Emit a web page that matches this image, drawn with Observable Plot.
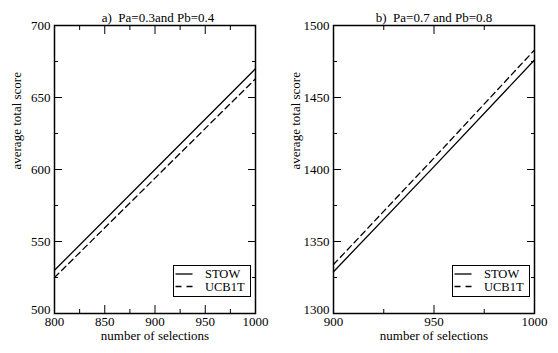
<!DOCTYPE html>
<html><head><meta charset="utf-8">
<script src="https://cdn.jsdelivr.net/npm/d3@7"></script>
<script src="https://cdn.jsdelivr.net/npm/@observablehq/plot@0.6"></script>
<style>
body{margin:0;background:#fff;}
#wrap{position:relative;width:558px;height:353px;display:flex;font-family:"Liberation Serif","Times New Roman",serif;color:#000;}
svg text{white-space:pre;font-family:"Liberation Serif","Times New Roman",serif;}
.legend{position:absolute;top:265px;width:78px;height:32px;border:1px solid #000;box-sizing:border-box;background:#fff;}
</style></head><body><div id="wrap"></div>
<script>
// ---- data ----
const seriesNames = ["STOW", "UCB1T"];
const panelTitles = ["a)  Pa=0.3and Pb=0.4", "b)  Pa=0.7 and Pb=0.8"];
const xLabel = "number of selections";
const yLabel = "average total score";

const xA = [800, 900, 1000];
const stowA = [530, 600, 670];
const ucbA = [525, 594, 663];

const xB = [900, 950, 1000];
const stowB = [1329, 1402, 1476];
const ucbB = [1334, 1408, 1483];

const xDomainA = [800, 1000], yDomainA = [500, 700];
const xDomainB = [900, 1000], yDomainB = [1300, 1500];
const xMajorA = [800, 850, 900, 950, 1000], xMinorA = [825, 875, 925, 975];
const yMajorA = [500, 550, 600, 650, 700], yMinorA = [525, 575, 625, 675];
const xMajorB = [900, 950, 1000], xMinorB = [925, 975];
const yMajorB = [1300, 1350, 1400, 1450, 1500], yMinorB = [1325, 1375, 1425, 1475];

const FONT = '"Liberation Serif", "Times New Roman", serif';

function rows(xs, a, b) {
  const out = [];
  xs.forEach((x, i) => out.push({x, y: a[i], s: seriesNames[0]}));
  xs.forEach((x, i) => out.push({x, y: b[i], s: seriesNames[1]}));
  return out;
}

function panel(cfg) {
  const data = rows(cfg.xs, cfg.a, cfg.b);
  const yLow = cfg.yMajor[0];
  const tickOpts = {label: null, fill: "none", strokeWidth: 1};
  const fmt = d => String(d);
  return Plot.plot({
    width: 279, height: 353,
    marginLeft: 54, marginRight: 24, marginTop: 25, marginBottom: 40,
    style: {fontFamily: FONT, fontSize: "13px", color: "#000", background: "#fff"},
    x: {domain: cfg.xDomain, label: null},
    y: {domain: cfg.yDomain, label: null},
    marks: [
      Plot.line(data.filter(d => d.s === seriesNames[0]), {x: "x", y: "y", stroke: "#000", strokeWidth: 1.3}),
      Plot.line(data.filter(d => d.s === seriesNames[1]), {x: "x", y: "y", stroke: "#000", strokeWidth: 1.3, strokeDasharray: "6,4"}),
      // inward ticks, all four sides
      Plot.axisX(cfg.xMajor, {anchor: "bottom", tickSize: -8, ...tickOpts}),
      Plot.axisX(cfg.xMinor, {anchor: "bottom", tickSize: -4, ...tickOpts}),
      Plot.axisX(cfg.xMajor, {anchor: "top", tickSize: -8, ...tickOpts}),
      Plot.axisX(cfg.xMinor, {anchor: "top", tickSize: -4, ...tickOpts}),
      Plot.axisY(cfg.yMajor, {anchor: "left", tickSize: -8, ...tickOpts}),
      Plot.axisY(cfg.yMinor, {anchor: "left", tickSize: -4, ...tickOpts}),
      Plot.axisY(cfg.yMajor, {anchor: "right", tickSize: -8, ...tickOpts}),
      Plot.axisY(cfg.yMinor, {anchor: "right", tickSize: -4, ...tickOpts}),
      // tick labels
      Plot.axisX(cfg.xMajor, {anchor: "bottom", tickSize: 0, tickPadding: 3, label: null, fill: "#000", tickFormat: fmt, fontSize: 13}),
      Plot.axisY(cfg.yMajor.filter(v => v !== yLow), {anchor: "left", tickSize: 0, tickPadding: 4, label: null, fill: "#000", tickFormat: fmt, fontSize: 13}),
      Plot.axisY([yLow], {anchor: "left", tickSize: 0, tickPadding: 4, label: null, fill: "#000", dy: -4, tickFormat: fmt, fontSize: 13}),
      Plot.frame({stroke: "#000", strokeWidth: 1.5}),
      Plot.text([cfg.title], {text: d => d, frameAnchor: "top", dy: -13, dx: cfg.titleDx, fill: "#000", fontSize: 13}),
      Plot.text([xLabel], {text: d => d, frameAnchor: "bottom", dy: 26, fill: "#000", fontSize: 13}),
      Plot.text([yLabel], {text: d => d, frameAnchor: "left", dx: -38, rotate: -90, fill: "#000", fontSize: 13})
    ]
  });
}

const wrap = document.getElementById("wrap");
wrap.appendChild(panel({xs: xA, a: stowA, b: ucbA, xDomain: xDomainA, yDomain: yDomainA,
  xMajor: xMajorA, xMinor: xMinorA, yMajor: yMajorA, yMinor: yMinorA, title: panelTitles[0], titleDx: 3}));
wrap.appendChild(panel({xs: xB, a: stowB, b: ucbB, xDomain: xDomainB, yDomain: yDomainB,
  xMajor: xMajorB, xMinor: xMinorB, yMajor: yMajorB, yMinor: yMinorB, title: panelTitles[1], titleDx: 0}));

// legends
[173, 452].forEach(left => {
  const div = document.createElement("div");
  div.className = "legend";
  div.style.left = left + "px";
  const svg = d3.create("svg").attr("width", 76).attr("height", 30)
    .style("position", "absolute").style("left", "0px").style("top", "0px");
  seriesNames.forEach((name, i) => {
    const cy = 8 + i * 12.5;
    svg.append("line").attr("x1", 1.5).attr("x2", 18.5).attr("y1", cy).attr("y2", cy)
      .attr("stroke", "#000").attr("stroke-width", 1.3)
      .attr("stroke-dasharray", i === 1 ? "6,5" : null);
    svg.append("text").attr("x", 31).attr("y", cy).attr("dy", "0.35em")
      .attr("font-family", FONT).attr("font-size", 12.5).attr("fill", "#000").text(name);
  });
  div.appendChild(svg.node());
  wrap.appendChild(div);
});
</script>
</body></html>
